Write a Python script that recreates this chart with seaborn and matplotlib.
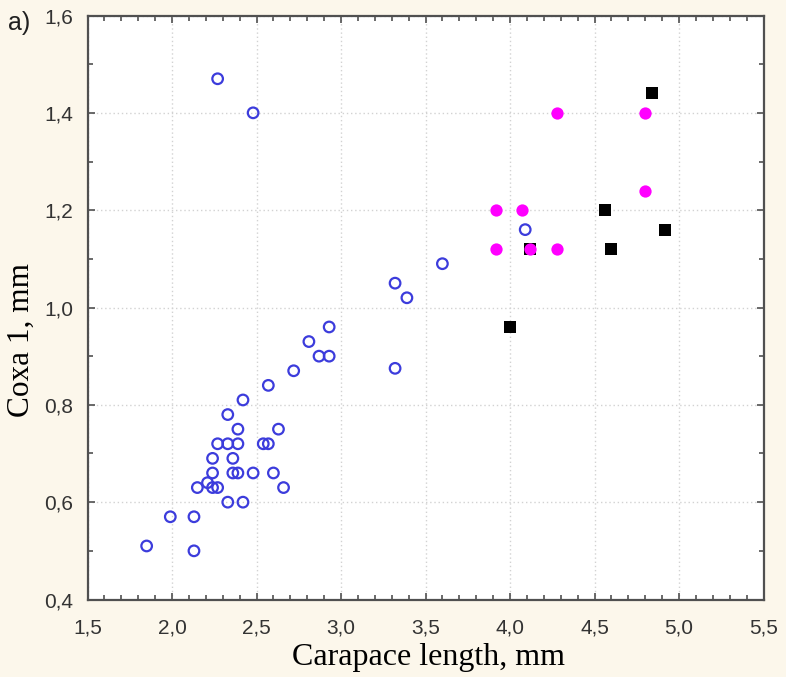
import matplotlib
matplotlib.use("Agg")
import matplotlib.pyplot as plt
import seaborn as sns
import pandas as pd
from matplotlib.ticker import MultipleLocator, FuncFormatter

# Carapace length (mm) vs coxa 1 width (mm) for three groups
blue_x = [2.27, 2.48, 1.85, 1.99, 2.13, 2.13, 2.15, 2.21, 2.24, 2.27,
          2.24, 2.24, 2.27, 2.33, 2.33, 2.39, 2.39, 2.36, 2.36, 2.39,
          2.33, 2.42, 2.42, 2.48, 2.54, 2.57, 2.60, 2.63, 2.66, 2.57,
          2.72, 2.81, 2.87, 2.93, 2.93, 3.32, 3.39, 3.32, 3.60, 4.09]
blue_y = [1.47, 1.40, 0.51, 0.57, 0.57, 0.50, 0.63, 0.64, 0.63, 0.63,
          0.66, 0.69, 0.72, 0.78, 0.72, 0.72, 0.75, 0.69, 0.66, 0.66,
          0.60, 0.60, 0.81, 0.66, 0.72, 0.72, 0.66, 0.75, 0.63, 0.84,
          0.87, 0.93, 0.90, 0.90, 0.96, 1.05, 1.02, 0.875, 1.09, 1.16]

black_x = [4.84, 4.56, 4.92, 4.60, 4.12, 4.00]
black_y = [1.44, 1.20, 1.16, 1.12, 1.12, 0.96]

pink_x = [3.92, 4.07, 3.92, 4.12, 4.28, 4.28, 4.80, 4.80]
pink_y = [1.20, 1.20, 1.12, 1.12, 1.12, 1.40, 1.40, 1.24]

x_ticks = [1.5, 2.0, 2.5, 3.0, 3.5, 4.0, 4.5, 5.0, 5.5]
y_ticks = [0.4, 0.6, 0.8, 1.0, 1.2, 1.4, 1.6]

blue_df = pd.DataFrame({"x": blue_x, "y": blue_y})
black_df = pd.DataFrame({"x": black_x, "y": black_y})
pink_df = pd.DataFrame({"x": pink_x, "y": pink_y})

sns.set_style("ticks")
plt.rcParams["font.family"] = ["Liberation Sans", "DejaVu Sans"]

bg = "#fcf7eb"
fig = plt.figure(figsize=(7.86, 6.77), dpi=100, facecolor=bg)
ax = fig.add_axes([87.5 / 786, 1 - 599.5 / 677, 676 / 786, 584 / 677])
ax.set_facecolor("white")

sns.scatterplot(data=blue_df, x="x", y="y", ax=ax, marker="o", s=58,
                facecolor="none", edgecolor="#3c3cdc", linewidth=1.6,
                zorder=3)
sns.scatterplot(data=black_df, x="x", y="y", ax=ax, marker="s", s=72,
                color="black", edgecolor="black", linewidth=0, zorder=3)
sns.scatterplot(data=pink_df, x="x", y="y", ax=ax, marker="o", s=78,
                color="#ff00ff", edgecolor="#ff00ff", linewidth=0, zorder=4)

ax.set_xlim(1.5, 5.5)
ax.set_ylim(0.4, 1.6)
ax.set_xticks(x_ticks)
ax.set_yticks(y_ticks)
ax.xaxis.set_minor_locator(MultipleLocator(0.1))
ax.yaxis.set_minor_locator(MultipleLocator(0.1))
comma = FuncFormatter(lambda v, p: f"{v:.1f}".replace(".", ","))
ax.xaxis.set_major_formatter(comma)
ax.yaxis.set_major_formatter(comma)

ax.tick_params(which="both", direction="in", top=True, right=True,
               color="#505050", width=1.2)
ax.tick_params(which="major", length=5, labelsize=15,
               labelcolor="#333333")
ax.tick_params(axis="x", which="major", pad=14)
ax.tick_params(axis="y", which="major", pad=10)
ax.tick_params(which="minor", length=3.5)

ax.grid(True, which="major", color="#d2d2d2", linestyle=(0, (1, 2)),
        linewidth=1.0, zorder=0)
for sp in ax.spines.values():
    sp.set_color("#505050")
    sp.set_linewidth(1.6)

ax.set_xlabel("Carapace length, mm", family="Liberation Serif",
              fontsize=23, color="black")
ax.set_ylabel("Coxa 1, mm", family="Liberation Serif", fontsize=22.5,
              color="black")
ax.xaxis.set_label_coords(0.505, -0.074)
ax.yaxis.set_label_coords(-0.077, 0.444)

fig.text(8 / 786, 1 - 23 / 677, "a)", fontsize=18, va="center",
         ha="left", color="#202020")

fig.savefig("out.png", dpi=100, facecolor=bg)
